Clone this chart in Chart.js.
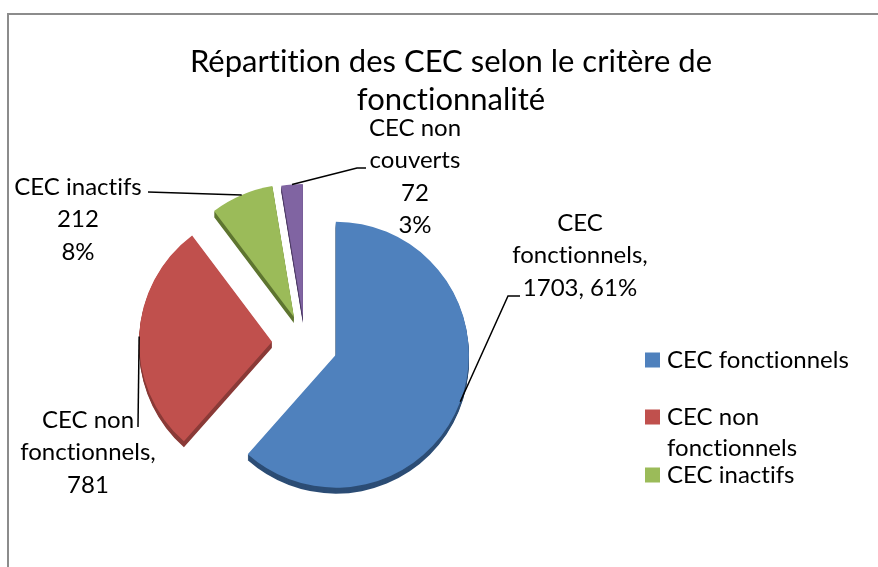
<!DOCTYPE html>
<html lang="fr">
<head>
<meta charset="UTF-8">
<title>Répartition des CEC selon le critère de fonctionnalité</title>
<script src="https://cdn.jsdelivr.net/npm/chart.js"></script>
<style>
  body { margin: 0; background: #fff; }
  #wrap { width: 878px; height: 567px; }
</style>
</head>
<body>
<div id="wrap"><canvas id="pie" width="878" height="567"></canvas></div>
<script>
// data
const categories = ["CEC fonctionnels", "CEC non fonctionnels", "CEC inactifs", "CEC non couverts"];
const counts = [1703, 781, 212, 72];
const percents = [61, 28, 8, 3]; // as printed on the labels
const titleLines = ["Répartition des CEC selon le critère de", "fonctionnalité"];
const legendShown = 3; // the 4th legend entry is cut off in the original

// styling
const faceColors = ["#4f81bd", "#c0504d", "#9bbb59", "#8064a2"];
const sideColors = ["#2c4d75", "#8a3a37", "#5e7530", "#4e3c66"];
const explode = [33, 33, 28, 26];
const depth = 6;
const FONT = "Lato, 'Open Sans', sans-serif";

// where each data label sits and how its leader line bends
const labelBoxes = [
  { x: 580, y: 223, path: [[508, 296], [520, 296]] },
  { x: 88,  y: 420, path: [[138, 427]] },
  { x: 78,  y: 187, path: [[148, 192]] },
  { x: 415, y: 128, path: [[357, 168], [366, 168]] },
];
const lineGap = 32.5;

function labelLines(i) {
  const w = categories[i].split(" ");
  const v = String(counts[i]);
  const p = percents[i] + "%";
  if (i === 0) return [w[0], w[1] + ",", v + ", " + p];
  if (i === 1) return [w[0] + " " + w[1], w[2] + ",", v];
  if (i === 2) return [categories[i], v, p];
  return [w[0] + " " + w[1], w[2], v, p];
}

// exploded slices with a thin dark side, like the Excel 3D pie
const pie3d = {
  id: "pie3d",
  beforeDraw(chart) {
    const ctx = chart.ctx;
    ctx.save();
    ctx.fillStyle = "#fff";
    ctx.fillRect(0, 0, chart.width, chart.height);
    ctx.strokeStyle = "#8c8c8c";
    ctx.lineWidth = 2;
    ctx.beginPath();
    ctx.moveTo(8, chart.height);
    ctx.lineTo(8, 14);
    ctx.lineTo(chart.width, 14);
    ctx.stroke();
    ctx.restore();
  },
  afterDatasetUpdate(chart) {
    chart.getDatasetMeta(0).data.forEach((el, i) => {
      if (el._patched) return;
      el._patched = true;
      el.draw = function (ctx) {
        const mid = (this.startAngle + this.endAngle) / 2;
        ctx.save();
        ctx.translate(Math.cos(mid) * explode[i], Math.sin(mid) * explode[i]);
        ctx.fillStyle = sideColors[i];
        for (let d = depth; d >= 1; d--) {
          ctx.beginPath();
          ctx.moveTo(this.x, this.y + d);
          ctx.arc(this.x, this.y + d, this.outerRadius, this.startAngle, this.endAngle);
          ctx.closePath();
          ctx.fill();
        }
        Chart.ArcElement.prototype.draw.call(this, ctx);
        ctx.restore();
      };
    });
  },
  afterDraw(chart) {
    const ctx = chart.ctx;
    ctx.save();
    ctx.fillStyle = "#000";
    ctx.textBaseline = "middle";
    ctx.letterSpacing = "0.01px"; // keeps Lato from using its "ti" ligature

    // title
    ctx.textAlign = "center";
    ctx.font = "31px " + FONT;
    ctx.fillText(titleLines[0], 451, 62);
    ctx.fillText(titleLines[1], 451, 100);

    // data labels + leader lines
    ctx.font = "24px " + FONT;
    ctx.strokeStyle = "#000";
    ctx.lineWidth = 1.5;
    chart.getDatasetMeta(0).data.forEach((arc, i) => {
      const mid = (arc.startAngle + arc.endAngle) / 2;
      const cx = arc.x + Math.cos(mid) * explode[i];
      const cy = arc.y + Math.sin(mid) * explode[i];
      const box = labelBoxes[i];
      ctx.beginPath();
      ctx.moveTo(cx + Math.cos(mid) * arc.outerRadius, cy + Math.sin(mid) * arc.outerRadius);
      box.path.forEach(([px, py]) => ctx.lineTo(px, py));
      ctx.stroke();
      labelLines(i).forEach((t, k) => ctx.fillText(t, box.x, box.y + k * lineGap));
    });

    // legend (right side, wrapped like the original)
    ctx.textAlign = "left";
    const rows = [360, 417, 475];
    for (let i = 0; i < legendShown; i++) {
      ctx.fillStyle = faceColors[i];
      ctx.fillRect(645, rows[i] - 7.5, 15, 15);
      ctx.fillStyle = "#000";
      let lines = [categories[i]];
      if (i === 1) lines = ["CEC non", "fonctionnels"];
      lines.forEach((t, k) => ctx.fillText(t, 667, rows[i] + k * 31));
    }
    ctx.restore();
  }
};

new Chart(document.getElementById("pie"), {
  type: "pie",
  data: {
    labels: categories,
    datasets: [{
      data: counts,
      backgroundColor: faceColors,
      borderWidth: 0,
      radius: 133
    }]
  },
  options: {
    responsive: false,
    animation: false,
    events: [],
    layout: { padding: { left: 0, right: 268, top: 150, bottom: 31 } },
    plugins: {
      legend: { display: false },
      tooltip: { enabled: false },
      title: { display: false }
    }
  },
  plugins: [pie3d]
});
</script>
</body>
</html>
